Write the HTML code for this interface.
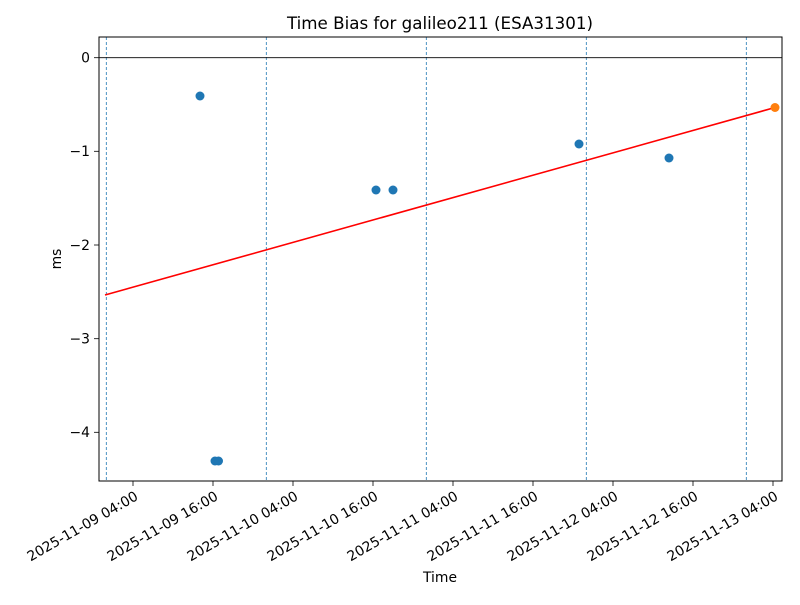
<!DOCTYPE html>
<html><head><style>body{margin:0;background:#fff}svg{font-family:"DejaVu Sans","Liberation Sans",sans-serif}</style></head>
<body>
<svg width="800" height="600" xmlns="http://www.w3.org/2000/svg">
<rect width="800" height="600" fill="#fff"/>
<text x="440" y="29" font-size="16.7" text-anchor="middle">Time Bias for galileo211 (ESA31301)</text>
<g stroke="#1f77b4" stroke-width="0.8" stroke-dasharray="3,2">
<line x1="106.3" y1="37" x2="106.3" y2="481"/>
<line x1="266.3" y1="37" x2="266.3" y2="481"/>
<line x1="426.3" y1="37" x2="426.3" y2="481"/>
<line x1="586.3" y1="37" x2="586.3" y2="481"/>
<line x1="746.3" y1="37" x2="746.3" y2="481"/>
</g>
<line x1="99" y1="57.7" x2="782" y2="57.7" stroke="#000" stroke-width="0.8"/>
<line x1="105" y1="295" x2="775" y2="107.5" stroke="red" stroke-width="1.6"/>
<g fill="#1f77b4">
<circle cx="200" cy="96" r="4.5"/><circle cx="215" cy="461" r="4.5"/><circle cx="218.5" cy="461" r="4.5"/>
<circle cx="376" cy="190" r="4.5"/><circle cx="393" cy="190" r="4.5"/><circle cx="579" cy="144" r="4.5"/><circle cx="669" cy="158" r="4.5"/>
</g>
<circle cx="775" cy="107.5" r="4.5" fill="#ff7f0e"/>
<rect x="99" y="37" width="683" height="444" fill="none" stroke="#000" stroke-width="1"/>
<g stroke="#000" stroke-width="0.8">
<line x1="94" y1="57.7" x2="99" y2="57.7"/><line x1="94" y1="151.3" x2="99" y2="151.3"/><line x1="94" y1="245" x2="99" y2="245"/><line x1="94" y1="338.7" x2="99" y2="338.7"/><line x1="94" y1="432.3" x2="99" y2="432.3"/>
<line x1="133" y1="481" x2="133" y2="486"/><line x1="213" y1="481" x2="213" y2="486"/><line x1="293" y1="481" x2="293" y2="486"/><line x1="373" y1="481" x2="373" y2="486"/><line x1="453" y1="481" x2="453" y2="486"/><line x1="533" y1="481" x2="533" y2="486"/><line x1="613" y1="481" x2="613" y2="486"/><line x1="693" y1="481" x2="693" y2="486"/><line x1="773" y1="481" x2="773" y2="486"/>
</g>
<g font-size="13.9" text-anchor="end">
<text x="90" y="62.5">0</text><text x="90" y="156">−1</text><text x="90" y="250">−2</text><text x="90" y="343.5">−3</text><text x="90" y="437">−4</text>
</g>
<g font-size="13.9" text-anchor="end">
<text transform="translate(139,499) rotate(-30)">2025-11-09 04:00</text>
<text transform="translate(219,499) rotate(-30)">2025-11-09 16:00</text>
<text transform="translate(299,499) rotate(-30)">2025-11-10 04:00</text>
<text transform="translate(379,499) rotate(-30)">2025-11-10 16:00</text>
<text transform="translate(459,499) rotate(-30)">2025-11-11 04:00</text>
<text transform="translate(539,499) rotate(-30)">2025-11-11 16:00</text>
<text transform="translate(619,499) rotate(-30)">2025-11-12 04:00</text>
<text transform="translate(699,499) rotate(-30)">2025-11-12 16:00</text>
<text transform="translate(779,499) rotate(-30)">2025-11-13 04:00</text>
</g>
<text x="440" y="582" font-size="13.9" text-anchor="middle">Time</text>
<text transform="translate(61,259) rotate(-90)" font-size="13.9" text-anchor="middle">ms</text>
</svg>
</body></html>
